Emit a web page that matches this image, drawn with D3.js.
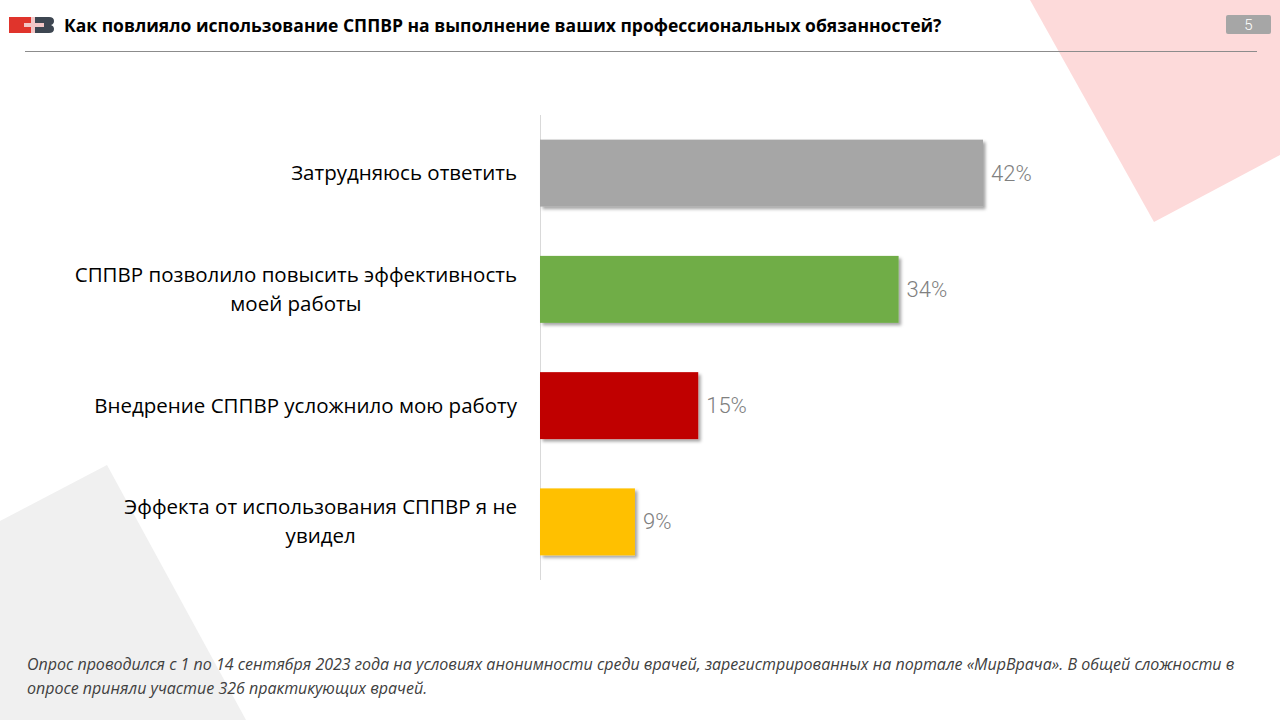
<!DOCTYPE html>
<html><head><meta charset="utf-8">
<script src="https://cdn.jsdelivr.net/npm/d3@7"></script>
<style>html,body{margin:0;padding:0;background:#fff;}svg{display:block;}</style>
</head><body>
<svg id="c" width="1280" height="720"></svg>
<script>
const categories = ["Затрудняюсь ответить", "СППВР позволило повысить эффективность\nмоей работы", "Внедрение СППВР усложнило мою работу", "Эффекта от использования СППВР я не\nувидел"];
const values = [42, 34, 15, 9];
const colors = ["#a6a6a6", "#70ad47", "#c00000", "#ffc000"];
const title = "Как повлияло использование СППВР на выполнение ваших профессиональных обязанностей?";
const footnote = ["Опрос проводился с 1 по 14 сентября 2023 года на условиях анонимности среди врачей, зарегистрированных на портале «МирВрача». В общей сложности в", "опросе приняли участие 326 практикующих врачей."];
const pageNum = "5";

const svg = d3.select("#c");
const defs = svg.append("defs");
const f = defs.append("filter").attr("id","sh").attr("x","-10%").attr("y","-10%").attr("width","130%").attr("height","140%");
f.append("feDropShadow").attr("dx",2.5).attr("dy",2.5).attr("stdDeviation",1.6).attr("flood-color","#000").attr("flood-opacity",0.35);

// background shapes
svg.append("polygon").attr("points","1030,0 1280,0 1280,155 1154,222").attr("fill","#fddada");
svg.append("polygon").attr("points","0,521 107,465 246,720 0,720").attr("fill","#f0f0f0");

// logo
const lg = svg.append("g");
lg.append("rect").attr("x",9).attr("y",17).attr("width",23).attr("height",16).attr("fill","#e0342c");
lg.append("path").attr("d","M33,17 H49 Q54,17 54,21 Q54,24 51,25 Q54,26 54,29 Q54,33 49,33 H33 Z").attr("fill","#3d4651");
lg.append("rect").attr("x",24).attr("y",23).attr("width",20).attr("height",4).attr("fill","#f2c6c6");
lg.append("rect").attr("x",31).attr("y",17).attr("width",4).attr("height",16).attr("fill","#f2c6c6");

// title
svg.append("text").attr("x",64).attr("y",32).attr("font-family","'Open Sans', 'Noto Sans', sans-serif").attr("font-weight","bold").attr("font-size",17.5).attr("fill","#000").text(title);
svg.append("line").attr("x1",25).attr("x2",1257).attr("y1",51.5).attr("y2",51.5).attr("stroke","#8c8c8c").attr("stroke-width",1);
svg.append("rect").attr("x",1226).attr("y",15).attr("width",45).attr("height",19).attr("rx",2).attr("fill","#a6a6a6");
svg.append("text").attr("x",1248.5).attr("y",30).attr("text-anchor","middle").attr("font-family","Roboto, sans-serif").attr("font-weight",300).attr("font-size",15).attr("fill","#fff").text(pageNum);

// chart
const x = d3.scaleLinear().domain([0, 42]).range([540, 983]);
const y = d3.scaleBand().domain(categories).range([115, 580]).paddingInner(0.424).paddingOuter(0.212);

svg.append("line").attr("x1",540.5).attr("x2",540.5).attr("y1",115).attr("y2",580).attr("stroke","#d9d9d9").attr("stroke-width",1);

const g = svg.append("g");
g.selectAll("rect.bar").data(categories).join("rect").attr("class","bar")
  .attr("x", x(0)).attr("y", d=>y(d)).attr("width", (d,i)=>x(values[i])-x(0)).attr("height", y.bandwidth())
  .attr("fill",(d,i)=>colors[i]).attr("filter","url(#sh)");

g.selectAll("text.val").data(categories).join("text").attr("class","val")
  .attr("x",(d,i)=>x(values[i])+8).attr("y",d=>y(d)+y.bandwidth()/2+7.5)
  .attr("font-family","Roboto, sans-serif").attr("font-weight",300).attr("font-size",22).attr("fill","#808080")
  .text((d,i)=>values[i]+"%");

g.selectAll("text.cat").data(categories).join("text").attr("class","cat")
  .attr("text-anchor","middle").attr("font-family","'Open Sans', 'Noto Sans', sans-serif").attr("font-size",20.5).attr("fill","#000")
  .each(function(d){
    const lines = d.split("\n");
    const t = d3.select(this);
    const cy = y(d)+y.bandwidth()/2;
    const lh = 29;
    const spans = lines.map((l,k)=> t.append("tspan").attr("y", cy + 7 + (k-(lines.length-1)/2)*lh).text(l));
    const w = d3.max(spans, s=>s.node().getComputedTextLength());
    spans.forEach(s=>s.attr("x", 517 - w/2));
  });

// footnote
footnote.forEach((l,k)=>{
  svg.append("text").attr("x",27).attr("y",670+k*24).attr("font-family","'Open Sans', sans-serif").attr("font-style","italic").attr("font-size",16).attr("fill","#404040").text(l);
});
</script>
</body></html>
